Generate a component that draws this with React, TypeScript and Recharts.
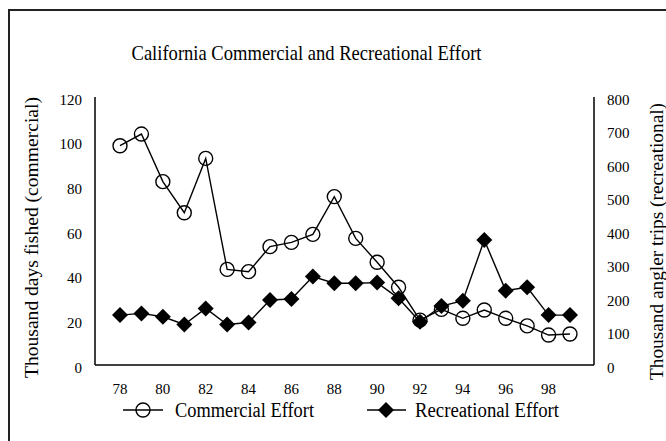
import { LineChart, Line, XAxis, YAxis } from "recharts";

const years = [78, 79, 80, 81, 82, 83, 84, 85, 86, 87, 88, 89, 90, 91, 92, 93, 94, 95, 96, 97, 98, 99];
// thousand days fished
const commercial = [98.2, 103.4, 82.1, 68.2, 92.5, 42.8, 41.8, 53, 54.9, 58.5, 75.4, 56.7, 46, 34.8, 20.1, 24.9, 20.9, 24.6, 20.9, 17.5, 13.4, 13.9];
// thousand angler trips
const recreational = [149, 154, 144, 121, 169, 121, 127, 194, 197, 264, 244, 244, 246, 199, 129, 176, 192, 373, 222, 232, 149, 149];

const xTicks = [78, 80, 82, 84, 86, 88, 90, 92, 94, 96, 98];
const leftTicks = [0, 20, 40, 60, 80, 100, 120];
const rightTicks = [0, 100, 200, 300, 400, 500, 600, 700, 800];

const data = years.map((year, i) => ({
  year,
  commercial: commercial[i],
  recreational: recreational[i],
}));

const FONT = "Liberation Serif, DejaVu Serif, Times New Roman, serif";
const tickStyle = { fontSize: 15, fill: "#000", style: { fontFamily: FONT } };

const Diamond = (props: any) => {
  const { cx, cy, index } = props;
  if (cx == null || cy == null) return <g key={index} />;
  return (
    <polygon
      key={index}
      points={`${cx},${cy - 8} ${cx + 8},${cy} ${cx},${cy + 8} ${cx - 8},${cy}`}
      fill="#000"
    />
  );
};

export default function App() {
  return (
    <div
      style={{
        position: "absolute",
        left: 0,
        top: 0,
        width: 666,
        height: 441,
        overflow: "hidden",
        background: "#fff",
        fontFamily: FONT,
      }}
    >
      {/* outer frame, runs off the right and bottom edges */}
      <div
        style={{
          position: "absolute",
          left: 8,
          top: 9,
          width: 700,
          height: 500,
          borderLeft: "2px solid #222",
          borderTop: "2px solid #222",
        }}
      />

      <div style={{ position: "absolute", left: 0, top: 0 }}>
        <LineChart
          width={666}
          height={441}
          data={data}
          margin={{ top: 97, right: 0, bottom: 46, left: 0 }}
          style={{ fontFamily: FONT }}
        >
          <XAxis
            dataKey="year"
            type="number"
            domain={[78, 99]}
            ticks={xTicks}
            padding={{ left: 25, right: 24 }}
            axisLine={{ stroke: "#000", strokeWidth: 1.5 }}
            tickLine={false}
            tickMargin={12}
            tick={tickStyle}
            height={30}
          />
          <XAxis
            xAxisId="top"
            orientation="top"
            dataKey="year"
            type="number"
            domain={[78, 99]}
            height={0}
            tick={false}
            tickLine={false}
            axisLine={{ stroke: "#000", strokeWidth: 1.5 }}
          />
          <YAxis
            yAxisId="left"
            domain={[0, 120]}
            ticks={leftTicks}
            width={95}
            axisLine={{ stroke: "#000", strokeWidth: 1.5 }}
            tickLine={false}
            tickMargin={7}
            tick={{ ...tickStyle, dy: 2.5 }}
          />
          <YAxis
            yAxisId="right"
            orientation="right"
            domain={[0, 800]}
            ticks={rightTicks}
            width={72}
            axisLine={{ stroke: "#000", strokeWidth: 1.5 }}
            tickLine={false}
            tickMargin={7}
            tick={{ ...tickStyle, dy: 2.5 }}
          />
          <Line
            yAxisId="left"
            dataKey="commercial"
            stroke="#000"
            strokeWidth={1.4}
            dot={{ r: 7, stroke: "#000", strokeWidth: 1.4, fill: "none" }}
            isAnimationActive={false}
          />
          <Line
            yAxisId="right"
            dataKey="recreational"
            stroke="#000"
            strokeWidth={1.4}
            dot={Diamond}
            isAnimationActive={false}
          />
        </LineChart>
      </div>

      <svg
        width={666}
        height={441}
        style={{ position: "absolute", left: 0, top: 0, pointerEvents: "none", fontFamily: FONT }}
        fill="#000"
      >
        <text x={131.5} y={59.5} fontSize={21} textLength={350} lengthAdjust="spacingAndGlyphs">
          California Commercial and Recreational Effort
        </text>
        <text
          transform="translate(38 237.5) rotate(-90)"
          textAnchor="middle"
          fontSize={18}
          textLength={281}
          lengthAdjust="spacingAndGlyphs"
        >
          Thousand days fished (commercial)
        </text>
        <text
          transform="translate(662.5 241.5) rotate(-90)"
          textAnchor="middle"
          fontSize={18}
          textLength={277}
          lengthAdjust="spacingAndGlyphs"
        >
          Thousand angler trips (recreational)
        </text>

        {/* legend */}
        <line x1={123} x2={163} y1={410} y2={410} stroke="#000" strokeWidth={1.5} />
        <circle cx={143} cy={410} r={7} fill="none" stroke="#000" strokeWidth={1.4} />
        <text x={175} y={416.5} fontSize={20} textLength={139} lengthAdjust="spacingAndGlyphs">
          Commercial Effort
        </text>
        <line x1={367} x2={406} y1={410} y2={410} stroke="#000" strokeWidth={1.5} />
        <polygon points="386,402 394,410 386,418 378,410" fill="#000" />
        <text x={415} y={416.5} fontSize={20} textLength={144} lengthAdjust="spacingAndGlyphs">
          Recreational Effort
        </text>
      </svg>
    </div>
  );
}
